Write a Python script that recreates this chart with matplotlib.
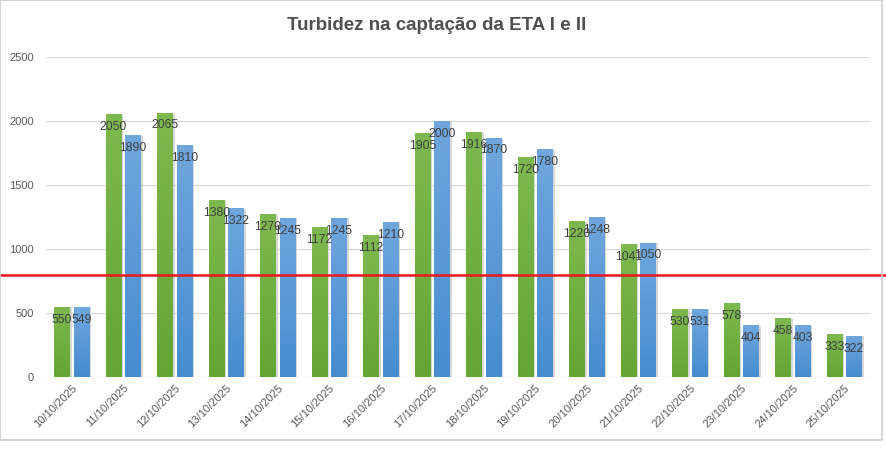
import numpy as np
import matplotlib
matplotlib.use("Agg")
import matplotlib.pyplot as plt
import matplotlib.transforms as mtransforms
from matplotlib.colors import LinearSegmentedColormap
from matplotlib.patches import Rectangle

# Data
dates = ['10/10/2025', '11/10/2025', '12/10/2025', '13/10/2025', '14/10/2025',
         '15/10/2025', '16/10/2025', '17/10/2025', '18/10/2025', '19/10/2025',
         '20/10/2025', '21/10/2025', '22/10/2025', '23/10/2025', '24/10/2025',
         '25/10/2025']
eta1 = [550, 2050, 2065, 1380, 1270, 1172, 1112, 1905, 1916, 1720, 1220, 1041, 530, 578, 458, 333]
eta2 = [549, 1890, 1810, 1322, 1245, 1245, 1210, 2000, 1870, 1780, 1248, 1050, 531, 404, 403, 322]
limite = 800

plt.rcParams['font.family'] = ['Liberation Sans', 'DejaVu Sans']

fig = plt.figure(figsize=(8.86, 4.51), dpi=100)
ax = fig.add_axes([0.052, 0.164, 0.930, 0.710])

x = np.arange(len(dates))
w = 0.31
off = 0.19

green_cmap = LinearSegmentedColormap.from_list('g', ['#64A534', '#7EB94F'])
blue_cmap = LinearSegmentedColormap.from_list('b', ['#478CCF', '#6FA7DD'])
grad = np.linspace(0, 1, 100).reshape(-1, 1)

def gradient_bars(bars, cmap):
    for b in bars:
        bx, by = b.get_x(), b.get_y()
        bw, bh = b.get_width(), b.get_height()
        # soft shadow on the right
        ax.add_patch(Rectangle((bx + bw, by), 0.035, bh * 0.995, color='#BFBFBF',
                               alpha=0.6, lw=0, zorder=2))
        im = ax.imshow(grad, cmap=cmap, origin='lower', aspect='auto',
                       extent=(bx, bx + bw, by, by + bh), zorder=3)
        im.set_clip_path(b)
        b.set_alpha(0)

b1 = ax.bar(x - off, eta1, w, color='#70AD47', zorder=3)
b2 = ax.bar(x + off, eta2, w, color='#5B9BD5', zorder=3)
gradient_bars(b1, green_cmap)
gradient_bars(b2, blue_cmap)

for xi, v in zip(x - off, eta1):
    ax.annotate(str(v), (xi, v), xytext=(0, -5), textcoords='offset points',
                ha='center', va='top', fontsize=8.7, color='#404040', zorder=5)
for xi, v in zip(x + off, eta2):
    ax.annotate(str(v), (xi, v), xytext=(0, -5), textcoords='offset points',
                ha='center', va='top', fontsize=8.7, color='#404040', zorder=5)

ax.set_xlim(-0.5, len(dates) - 0.5)
ax.set_ylim(0, 2500)
ax.set_yticks(range(0, 2501, 500))
ax.grid(axis='y', color='#D9D9D9', linewidth=0.9, zorder=0)
ax.set_axisbelow(True)
for s in ax.spines.values():
    s.set_visible(False)
ax.tick_params(axis='both', length=0, labelsize=8, labelcolor='#595959')
ax.tick_params(axis='y', pad=9)
ax.set_xticks(x)
ax.set_xticklabels(dates, rotation=45, ha='right', rotation_mode='anchor')
ax.tick_params(axis='x', pad=4)

# threshold line across the whole picture
trans = mtransforms.blended_transform_factory(fig.transFigure, ax.transData)
ax.plot([0, 1], [limite, limite], color='#E8191C', linewidth=1.8,
        transform=trans, clip_on=False, zorder=6)

fig.text(0.493, 0.943, 'Turbidez na captação da ETA I e II', ha='center', va='center',
         fontsize=13.5, fontweight='bold', color='#505050')

# light frame around the chart
fig.patches.append(Rectangle((0.0, 0.025), 0.996, 0.975, transform=fig.transFigure,
                             fill=False, edgecolor='#D0D0D0', linewidth=1.2))

fig.savefig('out.png', dpi=100)
